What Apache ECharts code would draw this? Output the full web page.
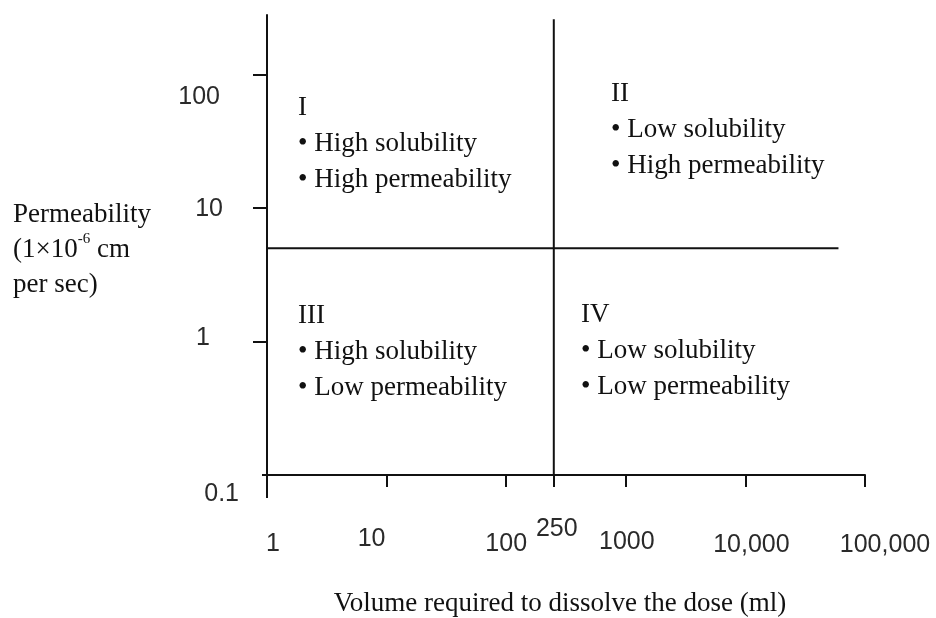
<!DOCTYPE html>
<html><head><meta charset="utf-8">
<script src="https://cdn.jsdelivr.net/npm/echarts@6/dist/echarts.min.js"></script>
<style>html,body{margin:0;padding:0;background:#fff}#c{width:936px;height:618px}</style>
</head><body><div id="c"></div>
<script>
// ---- data ----
const xTickValues = [1, 10, 100, 250, 1000, 10000, 100000];
const xTickLabels = ['1', '10', '100', '250', '1000', '10,000', '100,000'];
const yTickValues = [0.1, 1, 10, 100];
const yTickLabels = ['0.1', '1', '10', '100'];
const xRange = [1, 100000];
const yRange = [0.1, 280];
const volumeBoundary = 250;          // ml
const permeabilityBoundary = 5;      // 1e-6 cm/s
const hDividerX = [1, 60000];
const vDividerY = [0.1, 260];
const quadrantNumerals = ['I', 'II', 'III', 'IV'];
const quadrantLines = [
  ['High solubility', 'High permeability'],
  ['Low solubility', 'High permeability'],
  ['High solubility', 'Low permeability'],
  ['Low solubility', 'Low permeability']
];
const xTitle = 'Volume required to dissolve the dose (ml)';

// ---- styling ----
const SERIF = '"Liberation Serif", "Times New Roman", serif';
const SANS = '"Liberation Sans", Arial, sans-serif';
const INK = '#111';
const TICK_INK = '#2a2a2a';
// label nudges [dx, dy] (pixels), in tick order
const xLabelNudge = [[6, 17], [-15, 12], [0, 17], [3, 2], [1, 15], [6, 18], [20, 18]];
const yLabelNudge = [[0, 19], [29, -3], [16, 1], [19, 22]]; // [extra left shift, dy]

function idxOf(arr, v) {
  for (let i = 0; i < arr.length; i++) {
    if (Math.abs(Math.log10(arr[i]) - Math.log10(v)) < 1e-6) return i;
  }
  return -1;
}
const xRich = {}, yRich = {};
xTickValues.forEach((v, i) => {
  const [dx, dy] = xLabelNudge[i];
  xRich['x' + i] = {
    fontFamily: SANS, fontSize: 25, color: TICK_INK,
    padding: [dy, dx < 0 ? -2 * dx : 0, 0, dx > 0 ? 2 * dx : 0]
  };
});
yTickValues.forEach((v, i) => {
  const [lx, dy] = yLabelNudge[i];
  yRich['y' + i] = {
    fontFamily: SANS, fontSize: 25, color: TICK_INK,
    padding: [dy > 0 ? 2 * dy : 0, lx, dy < 0 ? -2 * dy : 0, 0]
  };
});

const chart = echarts.init(document.getElementById('c'), null, { renderer: 'canvas' });

const graphics = [];
const qPos = [[298, 90], [611, 76], [298, 298], [581, 297]];
quadrantNumerals.forEach((n, i) => {
  graphics.push({
    type: 'text', left: qPos[i][0], top: qPos[i][1], silent: true,
    style: {
      text: n + '\n' + quadrantLines[i].map(s => '\u2022 ' + s).join('\n'),
      fontFamily: SERIF, fontSize: 27, lineHeight: 36, fill: INK
    }
  });
});
graphics.push({
  type: 'text', left: 13, top: 201, silent: true,
  style: {
    text: '{a|Permeability}\n{a|(1\u00d710}{s|-6}{a| cm}\n{a|per sec)}',
    rich: {
      a: { fontFamily: SERIF, fontSize: 27, lineHeight: 35, fill: INK },
      s: { fontFamily: SERIF, fontSize: 15, lineHeight: 24, verticalAlign: 'top', fill: INK }
    }
  }
});

chart.setOption({
  animation: false,
  backgroundColor: '#fff',
  grid: { left: 267, right: 71, top: 15, bottom: 143, containLabel: false, outerBoundsMode: 'none' },
  xAxis: [{
    type: 'log', logBase: 10, min: xRange[0], max: xRange[1],
    name: xTitle, nameLocation: 'middle', nameGap: 115,
    nameTextStyle: { fontFamily: SERIF, fontSize: 27, color: INK, padding: [0, 12, 0, 0] },
    axisLine: { show: true, lineStyle: { color: INK, width: 2 } },
    axisTick: { show: true, inside: false, length: 12, customValues: xTickValues, lineStyle: { color: INK, width: 2 } },
    axisLabel: {
      show: true, margin: 40, customValues: xTickValues,
      formatter: v => { const i = idxOf(xTickValues, v); return i < 0 ? '' : '{x' + i + '|' + xTickLabels[i] + '}'; },
      rich: xRich
    },
    splitLine: { show: false }, minorTick: { show: false }
  }, {
    type: 'log', logBase: 10, min: xRange[0], max: xRange[1], position: 'bottom',
    axisLine: { show: false },
    axisTick: { show: true, length: 23, customValues: [xRange[0]], lineStyle: { color: INK, width: 2 } },
    axisLabel: { show: false }, splitLine: { show: false }
  }],
  yAxis: [{
    type: 'log', logBase: 10, min: yRange[0], max: yRange[1],
    axisLine: { show: true, lineStyle: { color: INK, width: 2 } },
    axisTick: { show: true, length: 14, customValues: yTickValues.slice(1), lineStyle: { color: INK, width: 2 } },
    axisLabel: {
      show: true, margin: 28, customValues: yTickValues,
      formatter: v => { const i = idxOf(yTickValues, v); return i < 0 ? '' : '{y' + i + '|' + yTickLabels[i] + '}'; },
      rich: yRich
    },
    splitLine: { show: false }, minorTick: { show: false }
  }, {
    type: 'log', logBase: 10, min: yRange[0], max: yRange[1], position: 'left',
    axisLine: { show: false },
    axisTick: { show: true, length: 5, customValues: [yRange[0]], lineStyle: { color: INK, width: 2 } },
    axisLabel: { show: false }, splitLine: { show: false }
  }],
  series: [{
    name: 'permeability boundary', type: 'line', xAxisIndex: 0, yAxisIndex: 0,
    data: [[hDividerX[0], permeabilityBoundary], [hDividerX[1], permeabilityBoundary]],
    symbol: 'none', silent: true, lineStyle: { color: INK, width: 2 }
  }, {
    name: 'volume boundary', type: 'line', xAxisIndex: 0, yAxisIndex: 0,
    data: [[volumeBoundary, vDividerY[0]], [volumeBoundary, vDividerY[1]]],
    symbol: 'none', silent: true, lineStyle: { color: INK, width: 2 }
  }],
  graphic: graphics
});
</script></body></html>
